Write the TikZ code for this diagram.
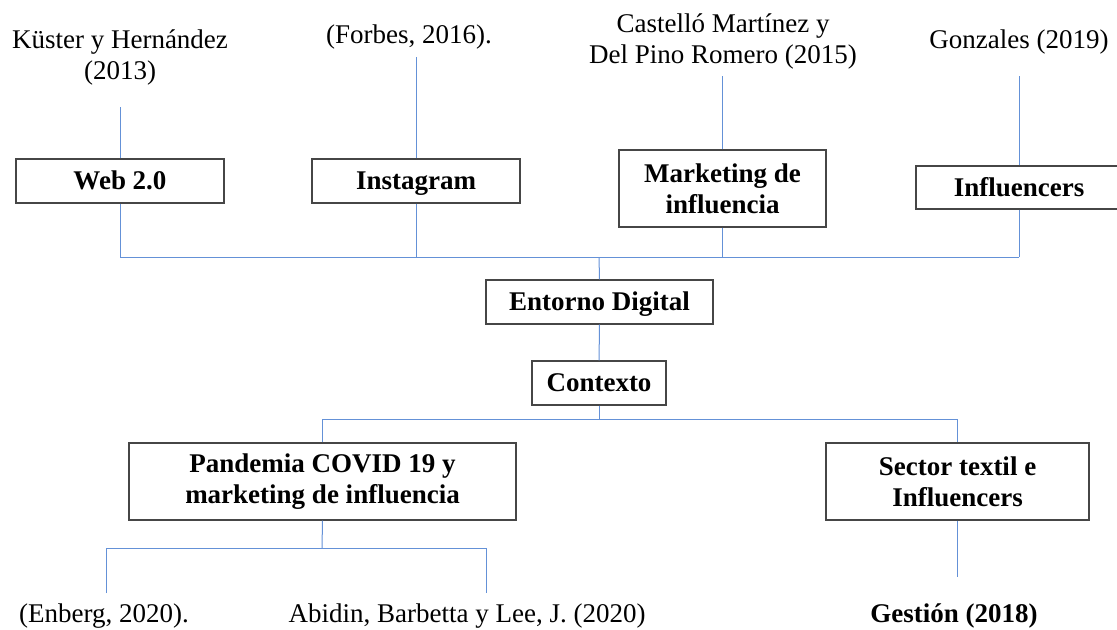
\documentclass[tikz,border=0pt]{standalone}
\usepackage{fontspec}
\setmainfont{Liberation Serif}
\definecolor{LinkBlue}{RGB}{100,145,215}
\definecolor{BoxEdge}{RGB}{70,70,70}
\usetikzlibrary{positioning}

\begin{document}
\begin{tikzpicture}[
        x=0.5pt, y=-0.5pt,
        font=\fontsize{13.5}{15.5}\selectfont,
        box/.style={draw=BoxEdge, line width=0.6pt, fill=white, align=center,
                    inner sep=2pt, font=\fontsize{13.5}{15.5}\selectfont\bfseries},
        onebox/.style={box, text height=8.5pt, text depth=0pt},
        cite/.style={align=center, inner sep=0pt},
        link/.style={draw=LinkBlue, line width=0.5pt}
      ]
        \useasboundingbox (0,0) rectangle (1117,629);
        % top row of concepts
        \node[onebox, minimum width=104pt, minimum height=22pt] (web) at (120,181) {Web 2.0};
        \node[onebox, minimum width=104pt, minimum height=22pt] (inst) at (416,181) {Instagram};
        \node[box, minimum width=103.5pt, minimum height=38.5pt] (mkt) at (722.5,188.5)
              {Marketing de\\influencia};
        \node[onebox, minimum width=103pt, minimum height=21.5pt] (infl) at (1019,187.5) {Influencers};
        % middle column
        \node[onebox, minimum width=113.5pt, minimum height=22pt] (ent) at (599.5,302) {Entorno Digital};
        \node[onebox, minimum width=67pt, minimum height=22pt] (ctx) at (599,383) {Contexto};
        % lower row
        \node[box, minimum width=193.5pt, minimum height=38.5pt] (pand) at (322.5,481.5)
              {Pandemia COVID 19 y\\marketing de influencia};
        \node[box, minimum width=131.5pt, minimum height=38.5pt] (sect) at (957.5,481.5)
              {Sector textil e\\Influencers};
        % sources
        \node[cite] (kuster) at (120,57) {Küster y Hernández\\(2013)};
        \node[cite] (forbes) at (409,37) {(Forbes, 2016).};
        \node[cite] (castello) at (723,41) {Castelló Martínez y\\Del Pino Romero (2015)};
        \node[cite] (gonz) at (1019,42) {Gonzales (2019)};
        \node[cite] (enberg) at (104,616) {(Enberg, 2020).};
        \node[cite] (abidin) at (467,616) {Abidin, Barbetta y Lee, J. (2020)};
        \node[cite, font=\fontsize{13.5}{15.5}\selectfont\bfseries] (gestion) at (954,616) {Gestión (2018)};
        % bus points
        \coordinate (topbus) at (599,257);
        \coordinate (midbus) at (599,419);
        \coordinate (lowbus) at (322,548);
        \coordinate (enbergEnd) at (106,593);
        \coordinate (abidinEnd) at (486,593);
        % stubs towards the sources
        \foreach \b/\len in {web/51,inst/101,mkt/73,infl/89}
          \draw[link] (\b.north) -- ++(0,-\len);
        % upper tree
        \foreach \b in {web,inst,mkt,infl}
          \draw[link] (\b.south) -- (\b.south |- topbus);
        \draw[link] (web.south |- topbus) -- (infl.south |- topbus);
        \draw[link] (topbus) -- (ent.north);
        \draw[link] (ent) -- (ctx);
        % lower tree
        \draw[link] (ctx.south) -- (midbus);
        \draw[link] (pand.north) |- (midbus) -| (sect.north);
        \draw[link] (pand.south) -- (lowbus);
        \draw[link] (enbergEnd) |- (lowbus) -| (abidinEnd);
        \draw[link] (sect.south) -- ++(0,56);
      \end{tikzpicture}
\end{document}
